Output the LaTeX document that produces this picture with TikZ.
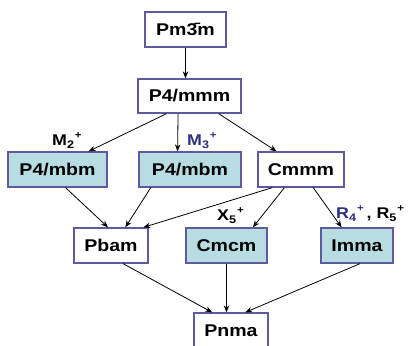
\documentclass[tikz,border=0pt]{standalone}
\usepackage{fontspec}
\setsansfont{Liberation Sans}
\usetikzlibrary{arrows.meta,calc}
\definecolor{boxfill}{HTML}{B7DDE3}
\definecolor{boxline}{HTML}{5E5A9C}
\definecolor{irrblue}{HTML}{2E2E80}
% slightly widened lettering
\newcommand\sx[1]{\scalebox{1.15}[1]{#1}}
% irrep label: letter, subscript index, superscript +
\newcommand\irr[2]{#1\raisebox{-0.4ex}{\fontsize{11}{11}\selectfont #2}\kern0.05em\raisebox{0.75ex}{\fontsize{10}{10}\selectfont +}}
\begin{document}
\begin{tikzpicture}[x=1pt,y=-1pt,
  grp/.style={draw=boxline, line width=1.3pt, minimum height=35pt, inner sep=0pt,
    font=\fontsize{17}{19}\selectfont\sffamily\bfseries, text=black},
  subgrp/.style={grp, fill=boxfill},
  link/.style={-{Stealth[length=7pt,width=5.5pt]}, line width=0.8pt},
  lab/.style={font=\fontsize{15.5}{17}\selectfont\sffamily\bfseries, inner sep=0pt, anchor=base west}]
\useasboundingbox (0,0) rectangle (409,345);

% groups
\node[grp, minimum width=81pt] (pm) at (185.5,29.5) {\sx{Pm\=3m}};
\node[grp, minimum width=103pt, minimum height=34pt] (p4) at (189.5,96) {\sx{P4/mmm}};
\node[subgrp, minimum width=99pt] (mbl) at (57.5,169.5) {\sx{P4/mbm}};
\node[subgrp, minimum width=102pt] (mbm) at (190,169.5) {\sx{P4/mbm}};
\node[grp, minimum width=86pt] (cm) at (301,169.5) {\sx{Cmmm}};
\node[grp, minimum width=74pt] (pb) at (111,245.5) {\sx{Pbam}};
\node[subgrp, minimum width=81pt] (cc) at (226.5,245.5) {\sx{Cmcm}};
\node[subgrp, minimum width=72pt] (im) at (357,245.5) {\sx{Imma}};
\node[grp, minimum width=74pt] (pn) at (231,330.5) {\sx{Pnma}};

% irrep labels
\node[lab] (lm2) at (52,145) {\sx{\irr{M}{2}}};
\node[lab, text=irrblue] (lm3) at (187,145) {\sx{\irr{M}{3}}};
\node[lab] (lx5) at (217,220) {\sx{\irr{X}{5}}};
\node[lab] (lr) at (336,218) {\sx{{\color{irrblue}\irr{R}{4}}\,, \irr{R}{5}}};

% connections
\draw[link] (pm.south) -- (pm.south |- p4.north);
\draw[link] ($(p4.south west)!0.28!(p4.south east)$) -- ($(mbl.north west)!0.81!(mbl.north east)$);
\draw[link] ($(p4.south west)!0.39!(p4.south east)$) -- ($(mbm.north west)!0.38!(mbm.north east)$);
\draw[link] ($(p4.south west)!0.78!(p4.south east)$) -- ($(cm.north west)!0.22!(cm.north east)$);

\draw[link] ($(mbl.south west)!0.58!(mbl.south east)$) -- ($(pb.north west)!0.46!(pb.north east)$);
\draw[link] ($(mbm.south west)!0.12!(mbm.south east)$) -- ($(pb.north west)!0.69!(pb.north east)$);
\draw[link] ($(cm.south west)!0.17!(cm.south east)$) -- ($(pb.north west)!0.93!(pb.north east)$);
\draw[link] ($(cm.south west)!0.31!(cm.south east)$) -- ($(cc.north west)!0.82!(cc.north east)$);
\draw[link] ($(cm.south west)!0.64!(cm.south east)$) -- ($(im.north west)!0.29!(im.north east)$);

\draw[link] ($(pb.south west)!0.66!(pb.south east)$) -- ($(pn.north west)!0.25!(pn.north east)$);
\draw[link] (cc.south) -- (cc.south |- pn.north);
\draw[link] ($(im.south west)!0.54!(im.south east)$) -- ($(pn.north west)!0.69!(pn.north east)$);
\end{tikzpicture}
\end{document}
